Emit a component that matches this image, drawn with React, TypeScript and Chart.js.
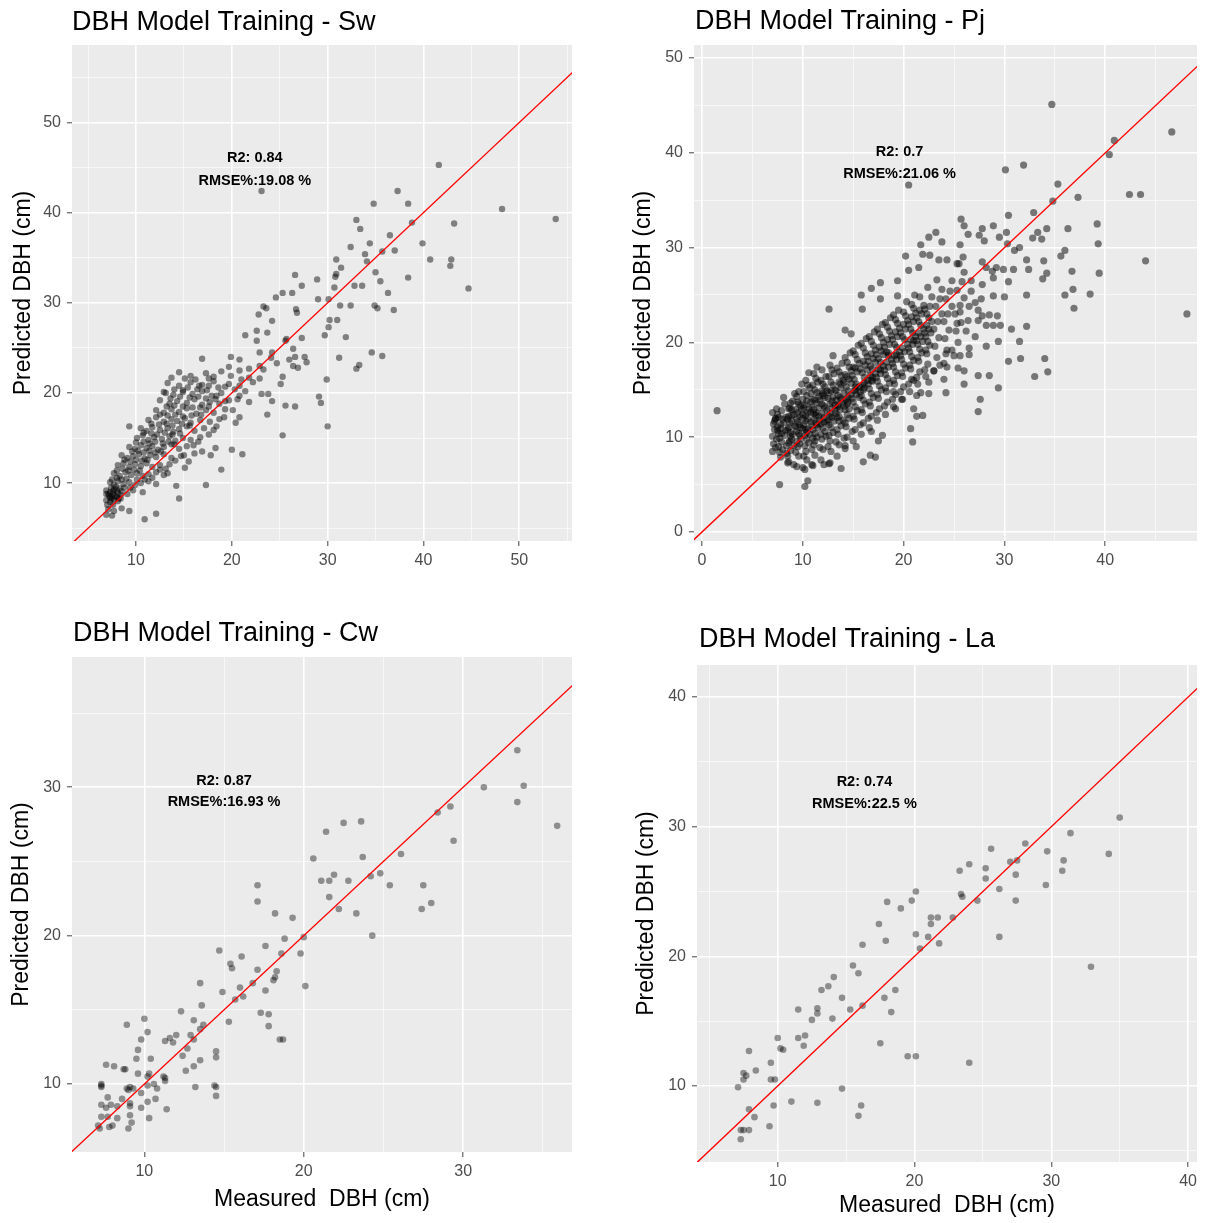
import React, { useEffect, useRef } from "react";
import { Chart, registerables } from "chart.js";

Chart.register(...registerables);

const FONT = '"Liberation Sans", Arial, Helvetica, sans-serif';

// ---------------- DATA ----------------
const swTitle = "DBH Model Training - Sw";
const pjTitle = "DBH Model Training - Pj";
const cwTitle = "DBH Model Training - Cw";
const laTitle = "DBH Model Training - La";

const swStats = ["R2: 0.84", "RMSE%:19.08 %"];
const pjStats = ["R2: 0.7", "RMSE%:21.06 %"];
const cwStats = ["R2: 0.87", "RMSE%:16.93 %"];
const laStats = ["R2: 0.74", "RMSE%:22.5 %"];

const yAxisTitle = "Predicted DBH (cm)";
const xAxisTitle = "Measured  DBH (cm)";

const swXTicks = [5, 10, 15, 20, 25, 30, 35, 40, 45, 50, 55];
const swYTicks = [5, 10, 15, 20, 25, 30, 35, 40, 45, 50, 55];
const pjXTicks = [0, 5, 10, 15, 20, 25, 30, 35, 40, 45];
const pjYTicks = [0, 5, 10, 15, 20, 25, 30, 35, 40, 45, 50];
const cwXTicks = [10, 15, 20, 25, 30, 35];
const cwYTicks = [10, 15, 20, 25, 30, 35];
const laXTicks = [5, 10, 15, 20, 25, 30, 35, 40];
const laYTicks = [5, 10, 15, 20, 25, 30, 35, 40];

// 1:1 reference line end points
const oneToOne = [-10, 100];

// Sw: measured, predicted
const swPoints: number[][] = [
  [53.8,39.3],[48.2,40.4],[41.6,45.3],[37.3,42.4],[38.4,41.0],[34.8,41.0],[33.0,39.2],[33.4,38.2],[38.8,38.9],[43.2,38.8],
  [36.5,37.5],[34.4,36.6],[39.9,36.6],[37.0,35.8],[35.7,35.7],[33.9,35.4],[34.1,34.6],[40.7,34.8],[42.9,34.8],[42.8,34.1],
  [32.4,36.2],[30.9,34.8],[31.4,33.9],[30.9,33.2],[30.8,32.9],[30.7,31.7],[38.4,32.8],[35.0,33.4],[35.5,32.4],[32.8,31.9],
  [33.6,31.9],[44.7,31.6],[36.3,31.1],[34.9,29.7],[35.2,29.4],[36.9,29.2],[32.4,29.7],[31.3,29.7],[30.2,28.1],[31.0,28.1],
  [30.1,30.4],[29.0,30.4],[30.1,27.3],[29.7,26.4],[31.9,26.2],[31.2,23.9],[34.6,24.5],[35.7,24.1],[33.0,22.7],[33.3,23.1],
  [29.9,21.5],[29.1,19.6],[29.3,18.9],[30.0,16.3],[26.6,33.1],[28.9,32.6],[27.3,31.9],[26.3,31.1],[25.3,31.1],[24.6,30.6],
  [23.3,29.6],[23.6,29.4],[22.8,28.7],[26.7,29.3],[26.8,28.9],[24.2,28.0],[27.3,26.1],[25.7,26.0],[25.6,25.8],[26.4,24.9],
  [26.6,24.0],[26.0,23.7],[27.6,24.0],[27.8,23.4],[26.9,22.8],[26.4,23.0],[24.7,23.3],[24.1,23.9],[24.2,24.5],[22.9,24.5],
  [22.6,25.8],[22.9,23.0],[21.4,26.4],[22.6,26.9],[23.7,26.7],[25.3,21.8],[25.1,21.0],[23.8,19.9],[24.2,19.1],[23.1,19.9],
  [23.7,17.6],[25.6,18.6],[26.6,18.5],[25.3,15.3],[22.9,21.6],[21.8,21.7],[23.3,22.6],[19.9,24.0],[20.8,23.7],[19.7,22.9],
  [16.9,23.8],[20.8,22.5],[19.7,21.0],[20.8,20.8],[20.8,19.7],[21.8,19.0],[20.1,18.1],[20.4,16.7],[20.8,17.3],[20.0,13.7],
  [21.1,13.2],[18.9,11.5],[17.3,9.8],[13.3,11.1],[14.2,9.7],[14.5,8.3],[12.1,6.6],[10.9,6.0],[9.3,6.9],[9.3,16.3],
  [13.7,21.7],[13.1,20.0],[14.9,20.1],[16.6,20.8],[17.6,20.8],[18.4,19.7],[19.3,19.1],[19.2,17.3],[18.4,16.3],[17.6,15.4],
  [18.3,13.9],[17.8,13.1],[16.9,13.5],[16.5,14.6],[16.1,13.3],[15.5,12.4],[15.1,11.7],[23.1,42.4],
  [19.9,21.9],[21.0,21.5],[21.4,20.2],[20.6,19.3],[21.8,22.7],[22.2,21.2],
  [14.5,22.3],[15.7,21.9],[17.3,22.2],[18.1,21.8],[18.9,22.4],
  [13.3,21.1],[14.5,20.8],[15.7,21.2],[16.9,20.9],[18.1,21.3],[19.3,20.7],
  [12.9,20.1],[13.9,19.8],[14.9,20.3],[15.9,19.9],[16.9,20.2],[17.9,19.7],[18.9,20.0],[20.3,20.4],
  [12.5,19.2],[13.5,18.8],[14.3,19.1],[15.3,18.9],[16.1,19.3],[16.9,18.7],[17.7,19.0],[18.7,18.8],[19.7,19.2],
  [12.1,18.1],[12.9,17.8],[13.7,18.2],[14.5,17.9],[15.3,18.3],[16.3,17.7],[17.3,18.1],[18.1,17.8],[19.3,18.2],
  [11.3,17.0],[12.1,17.3],[12.9,16.8],[13.7,17.1],[14.3,16.9],[15.1,17.2],[15.7,16.7],[16.7,17.0],[17.7,16.8],[18.7,17.1],
  [10.5,16.1],[11.1,15.8],[11.7,16.2],[12.5,15.9],[13.3,16.1],[13.9,15.7],[14.5,16.0],[15.3,16.3],[16.1,15.8],[17.1,16.1],[18.1,15.9],
  [10.1,15.0],[10.7,15.3],[11.3,14.8],[11.9,15.1],[12.7,14.9],[13.5,15.2],[14.1,14.7],[14.9,15.0],[15.7,14.8],[16.7,15.1],
  [9.3,14.0],[9.9,13.8],[10.5,14.2],[11.1,13.9],[11.7,14.1],[12.3,13.7],[12.9,14.0],[13.7,14.3],[14.5,13.8],[15.3,14.1],
  [8.5,13.1],[9.1,12.8],[9.7,13.0],[10.3,13.2],[10.9,12.7],[11.5,13.1],[12.1,12.9],[12.9,13.2],[13.7,12.8],[14.7,13.0],
  [8.1,12.0],[8.7,12.2],[9.3,11.8],[9.9,12.1],[10.5,11.9],[11.1,12.2],[11.7,11.8],[12.5,12.0],[13.5,12.1],
  [7.7,11.1],[8.3,10.8],[8.9,11.2],[9.5,10.9],[10.1,11.1],[10.7,10.8],[11.3,11.0],[12.1,11.2],[12.9,10.9],
  [7.3,10.1],[7.7,9.8],[8.1,10.2],[8.7,9.9],[9.3,10.1],[9.9,9.8],[10.5,10.0],[11.3,10.2],[12.1,9.9],
  [6.9,9.2],[7.1,8.8],[7.3,9.0],[7.7,9.3],[8.1,8.9],[8.5,9.1],[9.1,8.8],[9.7,9.2],[10.7,9.0],
  [6.9,8.1],[7.3,7.9],[7.7,8.2],[8.1,8.0],[7.5,8.4],[8.4,8.3],
  [7.1,7.1],[7.7,6.9],[8.5,7.2],[6.9,6.5],[7.5,6.4],
  [7.2,8.6],[7.6,8.8],[8.0,8.5],[7.4,9.5],[7.9,9.6],[8.3,9.4],
  [7.4,8.2],[7.8,8.6],[8.2,8.3],[7.6,9.1],[8.0,9.2],[8.4,8.7],[7.5,10.4],[8.0,10.6],[8.5,10.4],[9.0,10.5],
  [8.0,11.4],[8.6,11.6],[9.2,11.4],[9.8,11.5],[10.4,11.4],[8.8,12.6],[9.4,12.4],[10.0,12.6],[10.6,12.5],[11.2,12.6],
  [9.6,13.5],[10.2,13.6],[10.8,13.4],[11.4,13.6],[12.0,13.4],[12.6,13.5],[10.0,14.5],[10.8,14.6],[11.4,14.4],[12.0,14.6],
  [12.8,14.4],[13.4,14.6],[14.0,14.3],[10.8,15.6],[11.6,15.5],[12.2,15.4],[13.0,15.6],[13.8,15.4],[14.6,15.5],[11.6,16.6],
  [12.4,16.5],[13.2,16.6],[13.8,16.4],[14.8,16.6],[15.6,16.4],[12.5,17.6],[13.3,17.5],[14.1,17.6],[14.9,17.4],[15.8,17.5],
  [16.8,17.6],[13.2,18.5],[14.0,18.6],[14.9,18.5],[15.9,18.4],[16.7,18.4],[17.6,18.5],[13.6,19.4],[14.6,19.6],[15.6,19.5],
  [16.5,19.6],[17.3,19.4],[18.3,19.3],[14.0,20.4],[15.4,20.6],[16.4,20.4],[17.4,20.3],[18.6,20.6],[15.1,21.6],[16.2,21.5],
  [17.6,21.6],[7.0,7.6],[7.3,8.4],[7.6,7.6],[6.9,8.8],[8.8,9.5],[9.4,9.5],[10.1,10.4],[10.9,10.4],[11.7,10.6],
  [12.5,11.5],[13.1,11.6],[14.1,12.5],[15.0,13.1],[16.0,14.2],
];

// Pj: measured, predicted
const pjPoints: number[][] = [
  [34.7,45.1],[46.6,42.2],[40.9,41.3],[40.4,39.8],[31.9,38.7],[30.1,38.2],[20.5,36.6],[35.3,36.7],[34.8,34.9],[37.3,35.3],
  [42.4,35.6],[43.5,35.6],[30.4,33.4],[32.9,33.7],[39.2,32.5],[36.3,32.0],[34.2,32.0],[33.3,31.6],[39.3,30.4],[33.7,30.9],
  [32.8,31.0],[31.5,30.0],[32.2,28.7],[35.6,29.1],[36.0,29.7],[33.9,28.6],[32.4,27.7],[34.2,27.3],[36.7,27.5],[39.4,27.3],
  [44.0,28.6],[33.8,26.7],[30.4,26.4],[36.0,25.0],[36.8,25.6],[36.9,23.6],[38.5,25.1],[48.1,23.0],[32.2,25.0],[32.2,21.7],
  [30.7,21.4],[31.5,20.1],[29.4,20.1],[30.4,18.0],[31.6,18.3],[34.0,18.3],[34.3,16.9],[33.0,16.4],[29.4,15.2],[28.5,16.5],
  [27.4,16.5],[27.6,14.0],[27.4,12.7],[26.0,15.6],[26.0,17.0],[24.2,14.7],[24.0,16.1],[20.7,10.9],[20.9,9.5],[21.3,12.2],
  [21.9,12.3],[1.5,12.8],[12.6,23.5],[7.7,5.0],[10.2,4.8],[10.5,5.4],[13.8,6.7],[17.2,7.9],[16.7,8.1],[16.0,7.4],
  [12.1,7.1],[12.7,7.3],[10.9,7.1],[10.0,6.8],[9.1,7.1],[8.5,7.3],[14.2,9.1],[15.3,9.0],[17.5,9.6],[17.9,10.2],
  [16.8,10.6],[19.2,13.0],[19.9,14.0],[19.0,14.8],[14.2,21.3],[14.8,20.9],[15.8,25.0],[16.8,25.7],[17.7,26.3],[19.4,26.5],
  [19.4,24.9],[17.7,24.6],[15.9,23.5],[20.2,29.1],[20.5,27.6],[21.5,27.9],[21.7,30.3],[21.9,29.3],[22.5,31.1],[23.2,31.6],
  [23.8,30.6],[22.6,29.2],[23.5,28.7],[24.3,28.7],[25.7,33.0],[26.0,32.3],[26.4,31.4],[25.6,30.3],[25.9,29.0],[25.3,28.3],
  [27.5,31.3],[27.8,32.0],[28.9,32.3],[28.0,30.7],[29.5,31.1],[30.2,31.6],[30.3,30.4],[31.0,29.7],[27.8,28.5],[28.2,27.9],
  [28.8,27.5],[29.2,27.9],[29.9,27.7],[30.9,27.7],[28.9,26.8],[26.7,26.5],[26.7,25.4],[27.8,26.1],[27.7,24.6],[28.9,24.9],
  [30.0,24.8],[27.1,24.2],[26.5,23.8],[27.4,23.4],[27.8,22.8],[28.5,22.9],[29.3,22.8],[29.6,21.8],[28.9,21.8],[28.2,21.8],
  [27.4,22.3],[26.4,22.3],[25.6,23.2],[25.3,22.0],[26.2,21.2],[27.1,20.6],[28.2,19.6],[26.5,19.4],[25.6,18.6],[26.5,18.7],
  [25.4,17.3],[24.8,19.2],[24.2,18.8],[23.6,17.6],[23.0,17.0],[24.3,17.4],[22.5,15.8],[21.7,14.7],[22.5,14.6],[21.0,16.0],
  [21.3,14.4],[21.0,13.0],
  [7.0,8.5],[7.1,9.3],[7.0,10.1],[7.2,10.8],[7.1,11.4],[7.3,12.0],[7.0,12.6],[7.4,9.8],[7.5,11.1],[7.3,8.9],[7.6,10.4],[7.5,12.4],[7.2,11.7],[7.4,13.0],
  [7.8,7.9],[8.0,8.7],[7.9,9.5],[8.2,10.2],[7.8,10.9],[8.1,11.5],[8.3,12.1],[7.9,12.8],[8.2,13.5],[8.4,9.1],[8.0,11.9],[8.3,10.7],[8.1,14.2],[8.4,8.3],
  [8.6,7.4],[8.8,8.6],[8.7,9.6],[9.0,10.3],[8.6,11.0],[8.9,11.7],[9.1,12.4],[8.7,13.1],[9.0,13.8],[9.2,14.6],[8.8,10.5],[9.1,9.1],[8.9,12.9],[9.2,11.2],[8.6,12.2],
  [9.4,6.9],[9.6,8.0],[9.5,9.0],[9.8,9.8],[9.4,10.6],[9.7,11.3],[10.0,12.0],[9.5,12.6],[9.8,13.3],[10.0,14.0],[9.6,14.8],[9.9,15.6],[9.4,11.9],[9.7,10.2],[10.0,10.9],[9.9,12.9],[9.5,13.7],
  [10.2,6.6],[10.4,7.6],[10.3,8.5],[10.6,9.4],[10.2,10.2],[10.5,10.9],[10.8,11.6],[10.3,12.3],[10.6,13.0],[10.8,13.7],[10.4,14.4],[10.7,15.2],[10.3,16.0],[10.6,16.8],[10.5,11.9],[10.8,12.6],[10.2,13.4],[10.7,10.3],[10.4,9.8],[10.8,14.6],
  [11.0,7.0],[11.2,8.1],[11.1,9.2],[11.4,10.0],[11.0,10.8],[11.3,11.5],[11.6,12.2],[11.1,12.9],[11.4,13.6],[11.6,14.3],[11.2,15.0],[11.5,15.8],[11.1,16.7],[11.4,17.4],[11.3,12.6],[11.6,13.1],[11.0,14.0],[11.5,11.0],[11.2,9.6],
  [11.8,7.6],[12.0,8.7],[11.9,9.8],[12.2,10.6],[11.8,11.4],[12.1,12.1],[12.4,12.8],[11.9,13.5],[12.2,14.2],[12.4,14.9],[12.0,15.6],[12.3,16.4],[11.9,17.1],[12.2,13.1],[12.4,11.6],[12.0,14.6],[12.3,10.1],
  [12.6,7.2],[12.8,8.5],[12.7,9.6],[13.0,10.5],[12.6,11.3],[12.9,12.1],[13.2,12.8],[12.7,13.5],[13.0,14.2],[13.2,15.0],[12.8,15.8],[13.1,16.7],[12.7,17.6],[13.0,18.6],[12.9,13.8],[13.1,11.7],[12.6,14.7],[13.2,13.4],
  [13.4,8.0],[13.6,9.2],[13.5,10.3],[13.8,11.2],[13.4,12.1],[13.7,12.9],[14.0,13.6],[13.5,14.4],[13.8,15.2],[14.0,16.0],[13.6,16.9],[13.9,17.8],[13.5,13.2],[13.8,14.0],[14.0,11.8],[13.7,15.6],
  [14.2,8.8],[14.4,10.0],[14.3,11.1],[14.6,12.0],[14.2,12.9],[14.5,13.7],[14.8,14.5],[14.3,15.3],[14.6,16.1],[14.8,17.0],[14.4,17.9],[14.7,18.9],[14.5,14.2],[14.8,15.7],[14.2,16.6],[14.6,13.0],
  [15.0,9.6],[15.2,10.8],[15.1,11.9],[15.4,12.8],[15.0,13.7],[15.3,14.5],[15.6,15.3],[15.1,16.1],[15.4,16.9],[15.6,17.8],[15.2,18.7],[15.5,19.7],[15.3,15.0],[15.0,17.4],[15.6,14.2],
  [15.8,10.3],[16.0,11.5],[15.9,12.6],[16.2,13.5],[15.8,14.4],[16.1,15.2],[16.4,16.0],[15.9,16.8],[16.2,17.6],[16.4,18.5],[16.0,19.4],[16.3,20.4],[16.1,15.7],[16.4,17.1],
  [16.6,11.0],[16.8,12.2],[16.7,13.3],[17.0,14.2],[16.6,15.1],[16.9,15.9],[17.2,16.7],[16.7,17.5],[17.0,18.3],[17.2,19.2],[16.8,20.1],[17.1,21.1],[16.9,16.3],[17.2,17.9],
  [17.4,11.8],[17.6,13.0],[17.5,14.1],[17.8,15.0],[17.4,15.9],[17.7,16.7],[18.0,17.5],[17.5,18.3],[17.8,19.1],[18.0,20.0],[17.6,20.9],[17.9,21.9],[17.7,17.1],[18.0,18.7],
  [18.2,12.4],[18.4,13.7],[18.3,14.8],[18.6,15.7],[18.2,16.6],[18.5,17.4],[18.8,18.2],[18.3,19.0],[18.6,19.8],[18.8,20.7],[18.4,21.6],[18.7,22.6],[18.5,18.6],
  [19.0,13.2],[19.2,14.5],[19.1,15.6],[19.4,16.5],[19.0,17.4],[19.3,18.2],[19.6,19.0],[19.1,19.8],[19.4,20.6],[19.6,21.5],[19.2,22.4],[19.5,23.4],[19.3,18.7],
  [19.8,14.0],[20.0,15.3],[19.9,16.4],[20.2,17.3],[19.8,18.2],[20.1,19.0],[20.4,19.8],[19.9,20.6],[20.2,21.4],[20.4,22.3],[20.0,23.2],[20.3,24.3],
  [20.6,14.8],[20.8,16.1],[20.7,17.2],[21.0,18.1],[20.6,19.0],[20.9,19.8],[21.2,20.6],[20.7,21.4],[21.0,22.2],[21.2,23.1],[20.8,24.0],[21.1,25.0],[21.0,20.2],
  [21.4,15.6],[21.6,16.9],[21.5,18.0],[21.8,18.9],[21.4,19.8],[21.7,20.6],[22.0,21.4],[21.5,22.2],[21.8,23.0],[22.0,23.9],[21.6,24.8],[21.9,20.1],
  [22.2,16.4],[22.4,17.7],[22.3,18.8],[22.6,19.7],[22.2,20.6],[22.5,21.4],[22.8,22.2],[22.3,23.0],[22.6,23.8],[22.8,24.8],[22.4,25.8],[22.7,21.0],
  [23.0,17.0],[23.3,18.4],[23.1,19.6],[23.5,20.5],[23.0,21.4],[23.4,22.2],[23.8,23.0],[23.2,23.8],[23.6,24.6],[23.8,25.6],[23.3,26.6],
  [24.0,17.8],[24.3,19.2],[24.1,20.4],[24.5,21.3],[24.0,22.2],[24.4,23.0],[24.8,23.8],[24.2,24.6],[24.6,25.4],[24.8,26.5],
  [25.0,18.6],[25.4,20.0],[25.2,21.2],[25.7,22.1],[25.1,23.0],[25.6,23.9],[26.0,24.7],[25.3,25.5],[25.8,26.4],[26.0,27.4],[25.5,28.3],
  [7.6,9.0],[7.7,9.9],[7.5,10.7],[7.8,11.3],[7.6,12.1],[7.7,8.4],[7.9,10.4],[7.3,11.9],
  [8.5,8.0],[8.6,9.4],[8.8,10.1],[8.5,10.8],[8.7,11.5],[8.9,12.3],[8.6,13.0],[8.8,13.6],[8.5,11.9],[8.9,9.8],
  [9.3,8.4],[9.4,9.6],[9.6,10.4],[9.3,11.1],[9.5,11.6],[9.7,12.2],[9.3,12.9],[9.6,13.5],[9.4,14.3],[9.7,9.3],[9.8,11.0],
  [10.1,8.0],[10.2,9.1],[10.4,10.5],[10.1,11.3],[10.3,11.7],[10.5,12.6],[10.1,13.1],[10.4,13.8],[10.1,14.8],[10.5,15.5],[10.3,10.8],[10.0,12.4],
  [10.9,8.7],[11.0,9.9],[11.2,10.4],[10.9,11.2],[11.1,11.9],[11.3,12.3],[10.9,13.2],[11.2,13.9],[11.4,14.7],[11.0,15.5],[11.3,16.2],[11.1,12.5],[11.4,11.3],
  [11.7,8.9],[11.8,10.3],[12.0,11.0],[11.7,11.8],[11.9,12.5],[12.1,13.3],[11.7,13.9],[12.0,14.4],[12.2,15.3],[11.8,16.0],[12.1,11.6],[11.9,14.9],
  [12.5,9.0],[12.6,10.2],[12.8,11.0],[12.5,11.8],[12.7,12.5],[12.9,13.1],[12.5,14.1],[12.8,14.9],[13.0,15.5],[12.6,16.4],[12.9,17.1],[12.7,12.2],
  [13.3,9.5],[13.4,10.8],[13.6,11.7],[13.3,12.5],[13.5,13.4],[13.7,14.2],[13.3,14.9],[13.6,15.8],[13.8,16.5],[13.4,17.3],[13.6,12.2],[13.3,13.9],
  [14.1,9.9],[14.2,11.5],[14.4,12.4],[14.1,13.3],[14.3,14.0],[14.5,14.9],[14.1,15.8],[14.4,16.4],[14.6,17.4],[14.2,18.4],[14.4,13.5],[14.1,14.6],
  [14.9,10.6],[15.0,12.2],[15.2,13.2],[14.9,14.1],[15.1,14.9],[15.3,15.6],[14.9,16.5],[15.2,17.3],[15.4,18.2],[15.0,19.1],[15.2,15.3],
  [15.7,11.3],[15.8,12.9],[16.0,13.9],[15.7,14.8],[15.9,15.5],[16.1,16.3],[15.7,17.2],[16.0,18.0],[16.2,18.9],[15.8,19.9],[16.0,15.0],
  [16.5,12.0],[16.6,13.7],[16.8,14.6],[16.5,15.6],[16.7,16.5],[16.9,17.2],[16.5,18.0],[16.8,18.8],[17.0,19.7],[16.6,20.6],[16.8,16.0],
  [17.3,12.6],[17.4,14.5],[17.6,15.4],[17.3,16.3],[17.5,17.2],[17.7,17.9],[17.3,18.7],[17.6,19.5],[17.8,20.5],[17.4,21.4],
  [18.1,13.3],[18.2,15.2],[18.4,16.2],[18.1,17.1],[18.3,17.9],[18.5,18.9],[18.1,19.5],[18.4,20.3],[18.6,21.2],[18.2,22.1],
  [18.9,14.0],[19.0,16.0],[19.2,16.9],[18.9,17.8],[19.1,18.6],[19.3,19.5],[18.9,20.3],[19.2,21.1],[19.4,22.0],[19.0,22.9],
  [19.7,14.8],[19.8,16.8],[20.0,17.7],[19.7,18.6],[19.9,19.4],[20.1,20.3],[19.7,21.0],[20.0,21.9],[20.2,22.8],
  [20.5,15.6],[20.6,17.6],[20.8,18.5],[20.5,19.4],[20.7,20.3],[20.9,21.0],[20.5,21.9],[20.8,22.7],[21.0,23.6],
  [21.3,16.3],[21.4,18.4],[21.6,19.3],[21.3,20.2],[21.5,21.0],[21.7,21.8],[21.3,22.6],[21.6,23.4],
  [22.1,17.1],[22.2,19.2],[22.4,20.1],[22.1,21.0],[22.3,21.8],[22.5,22.6],[22.1,23.5],
];

// Cw: measured, predicted
const cwPoints: number[][] = [
  [33.4,32.5],[31.3,30.0],[33.8,30.1],[33.4,29.0],[29.2,28.7],[28.4,28.3],[29.4,26.4],[35.9,27.4],[22.5,27.6],[23.6,27.7],
  [21.4,27.0],[20.6,25.2],[23.7,25.3],[26.1,25.5],[21.1,23.7],[21.6,23.7],[21.9,24.1],[22.8,23.7],[24.2,24.0],[24.8,24.2],
  [25.4,23.4],[27.5,23.4],[21.6,22.6],[22.2,21.8],[23.3,21.5],[27.4,21.8],[28.0,22.2],[24.3,20.0],[17.1,23.4],[17.1,22.3],
  [18.2,21.5],[19.3,21.2],[17.6,19.3],[18.8,19.8],[20.0,19.9],[19.8,18.8],[18.6,18.8],[18.3,17.6],[18.2,17.2],[18.1,17.0],
  [17.1,17.7],[16.8,16.8],[17.6,16.3],[16.0,16.5],[16.1,18.6],[15.4,18.1],[15.5,17.8],[14.7,19.0],[14.9,16.2],[15.7,15.7],
  [16.2,15.9],[20.1,16.6],[17.3,14.8],[17.8,14.7],[17.8,13.9],[18.5,13.0],[18.7,13.0],[15.3,14.2],[13.5,16.8],[13.6,15.3],
  [13.7,14.0],[13.5,13.7],[13.1,14.3],[12.3,14.9],[12.9,13.3],[13.1,13.0],[12.7,12.4],[12.4,11.9],[12.6,10.9],[13.1,11.2],
  [13.5,11.6],[13.2,9.8],[14.5,12.2],[14.5,11.8],[14.4,9.9],[14.5,9.8],[14.5,9.2],[12.0,13.3],[11.8,12.8],[11.6,13.1],
  [11.3,12.9],[11.3,10.4],[11.3,10.2],[11.4,8.3],[11.2,10.5],[10.8,9.7],[10.7,9.0],[10.6,10.0],[10.4,11.7],[10.2,13.5],
  [10.0,14.4],[9.8,13.0],[9.6,12.3],[9.5,11.7],[9.6,10.7],[10.3,10.7],[10.2,10.5],[10.2,9.9],[10.2,8.8],[10.3,7.7],
  [9.8,9.4],[9.8,8.4],[9.3,9.7],[9.1,9.8],[9.0,9.6],[8.9,9.7],[9.1,8.7],[9.1,8.5],[9.1,7.9],[9.2,7.4],
  [9.0,7.0],[8.9,14.0],[8.8,11.0],[8.7,11.0],[8.6,9.0],[8.3,8.5],[8.3,7.7],[8.1,11.2],[8.0,7.2],[7.8,7.1],
  [7.7,9.1],[7.6,8.4],[7.7,7.8],[7.6,11.3],[7.3,10.0],[7.3,9.8],[7.3,8.6],[7.3,7.8],[7.1,7.2],[7.2,7.0],
  [7.9,8.6],[7.3,9.9],
];

// La: measured, predicted
const laPoints: number[][] = [
  [35.0,30.7],[31.4,29.5],[34.2,27.9],[29.7,28.1],[30.9,27.4],[30.8,26.6],[29.6,25.5],[28.1,28.7],[27.5,27.4],[27.0,27.3],
  [27.4,26.3],[27.4,24.3],[25.6,28.3],[25.2,26.8],[25.2,26.0],[26.2,25.2],[26.2,21.5],[24.0,27.1],[23.3,26.6],[23.4,24.8],
  [23.5,24.6],[24.6,24.3],[22.8,23.0],[21.7,23.0],[21.2,23.0],[21.2,22.5],[21.0,21.5],[21.8,21.0],[20.4,20.6],[20.1,25.0],
  [19.8,24.3],[20.1,21.7],[19.0,23.7],[18.0,24.2],[17.4,22.5],[17.9,21.2],[16.2,20.9],[15.5,19.3],[15.9,18.7],[14.1,18.4],
  [13.7,17.7],[13.2,17.4],[14.7,16.8],[16.2,16.2],[15.3,15.9],[14.0,15.2],[12.9,16.0],[12.9,15.6],[12.5,15.1],[11.5,15.9],
  [12.0,13.9],[11.9,13.1],[11.5,13.7],[10.0,13.7],[10.2,12.9],[10.4,12.8],[17.8,16.8],[18.6,17.4],[18.3,15.7],[17.5,13.3],
  [19.5,12.3],[20.1,12.3],[24.0,11.8],[32.9,19.2],[14.7,9.8],[12.9,8.7],[11.0,8.8],[16.1,8.5],[15.9,7.7],[9.5,10.5],
  [9.8,10.5],[9.5,11.8],[9.7,8.5],[9.4,6.9],[8.4,11.2],[8.3,7.6],[7.9,12.7],[7.9,8.2],[7.9,6.6],[7.5,11.0],
  [7.7,10.8],[7.5,10.5],[7.1,9.9],[7.3,6.6],[7.5,6.6],[7.3,5.9],
];

// ---------------- PANELS ----------------
type Box = { left: number; top: number; width: number; height: number };
type Plot = { left: number; top: number; right: number; bottom: number };

interface PanelSpec {
  title: string;
  stats: string[];
  statAt: number[];
  points: number[][];
  xRange: number[];
  yRange: number[];
  xTicks: number[];
  yTicks: number[];
  box: Box;
  plot: Plot;
  titleLeft: number;
  titleBaseline: number;
  yTitlePad: number;
  xTitle: boolean;
  xTitlePad: number;
  radius: number;
  alpha: number;
}

const panels: PanelSpec[] = [
  {
    title: swTitle, stats: swStats, statAt: [22.4, 46.1, 43.5], points: swPoints,
    xRange: [3.32, 55.5], yRange: [3.58, 58.6], xTicks: swXTicks, yTicks: swYTicks,
    box: { left: 0, top: 0, width: 610, height: 600 }, plot: { left: 72, top: 45, right: 572, bottom: 541 },
    titleLeft: 72, titleBaseline: 30, yTitlePad: 10, xTitle: false, xTitlePad: 0, radius: 3.2, alpha: 0.46,
  },
  {
    title: pjTitle, stats: pjStats, statAt: [19.6, 40.1, 37.8], points: pjPoints,
    xRange: [-0.79, 49.1], yRange: [-0.95, 51.37], xTicks: pjXTicks, yTicks: pjYTicks,
    box: { left: 615, top: 0, width: 594, height: 600 }, plot: { left: 694, top: 45, right: 1197, bottom: 541 },
    titleLeft: 695, titleBaseline: 29, yTitlePad: 15, xTitle: false, xTitlePad: 0, radius: 3.6, alpha: 0.5,
  },
  {
    title: cwTitle, stats: cwStats, statAt: [15.0, 30.45, 28.98], points: cwPoints,
    xRange: [5.46, 36.83], yRange: [5.42, 38.78], xTicks: cwXTicks, yTicks: cwYTicks,
    box: { left: 0, top: 600, width: 610, height: 623 }, plot: { left: 72, top: 657, right: 572, bottom: 1152 },
    titleLeft: 73, titleBaseline: 641, yTitlePad: 8, xTitle: true, xTitlePad: 10, radius: 3.3, alpha: 0.4,
  },
  {
    title: laTitle, stats: laStats, statAt: [16.34, 33.44, 31.75], points: laPoints,
    xRange: [4.1, 40.65], yRange: [4.14, 42.47], xTicks: laXTicks, yTicks: laYTicks,
    box: { left: 615, top: 600, width: 594, height: 623 }, plot: { left: 697, top: 665, right: 1197, bottom: 1162 },
    titleLeft: 699, titleBaseline: 647, yTitlePad: 18, xTitle: true, xTitlePad: 4, radius: 3.3, alpha: 0.4,
  },
];

const isMajor = (v: any) => typeof v === "number" && Math.abs(v % 10) < 1e-6;

function Panel({ spec }: { spec: PanelSpec }) {
  const ref = useRef<HTMLCanvasElement | null>(null);

  useEffect(() => {
    const canvas = ref.current;
    if (!canvas) return;
    const s = spec;

    const grid = {
      color: (c: any) => (isMajor(c.tick && c.tick.value) ? "#ffffff" : "rgba(255,255,255,0.75)"),
      lineWidth: (c: any) => (isMajor(c.tick && c.tick.value) ? 1.6 : 0.8),
      tickColor: (c: any) => (isMajor(c.tick && c.tick.value) ? "#444444" : "rgba(0,0,0,0)"),
      tickLength: 5,
      tickWidth: 1,
      drawTicks: true,
      drawOnChartArea: true,
    };

    const deco = {
      id: "deco",
      beforeDraw(chart: any) {
        const { ctx, chartArea: a } = chart;
        ctx.save();
        ctx.fillStyle = "#ebebeb";
        ctx.fillRect(a.left, a.top, a.right - a.left, a.bottom - a.top);
        ctx.restore();
      },
      afterDraw(chart: any) {
        const ctx = chart.ctx;
        ctx.save();
        ctx.fillStyle = "#000000";
        ctx.font = `27px ${FONT}`;
        ctx.textAlign = "left";
        ctx.textBaseline = "alphabetic";
        ctx.fillText(s.title, s.titleLeft - s.box.left, s.titleBaseline - s.box.top);
        ctx.font = `bold 14.5px ${FONT}`;
        ctx.textAlign = "center";
        ctx.textBaseline = "middle";
        const xs = chart.scales.x;
        const ys = chart.scales.y;
        const px = xs.getPixelForValue(s.statAt[0]);
        ctx.fillText(s.stats[0], px, ys.getPixelForValue(s.statAt[1]));
        ctx.fillText(s.stats[1], px, ys.getPixelForValue(s.statAt[2]));
        ctx.restore();
      },
    };

    const chart = new Chart(canvas, {
      type: "scatter",
      data: {
        datasets: [
          {
            type: "line",
            data: oneToOne.map((v) => ({ x: v, y: v })),
            borderColor: "#ff0000",
            borderWidth: 1.3,
            pointRadius: 0,
            fill: false,
            tension: 0,
            order: 0,
          } as any,
          {
            type: "scatter",
            data: s.points.map((p) => ({ x: p[0], y: p[1] })),
            backgroundColor: `rgba(0,0,0,${s.alpha})`,
            borderWidth: 0,
            pointRadius: s.radius,
            pointHoverRadius: s.radius,
            order: 1,
          },
        ],
      },
      options: {
        responsive: false,
        animation: false,
        events: [],
        layout: {
          padding: {
            top: s.plot.top - s.box.top,
            right: s.box.left + s.box.width - s.plot.right,
            left: 0,
            bottom: 0,
          },
        },
        plugins: {
          legend: { display: false },
          tooltip: { enabled: false },
          title: { display: false },
        },
        scales: {
          x: {
            type: "linear",
            min: s.xRange[0],
            max: s.xRange[1],
            afterBuildTicks: (scale: any) => {
              scale.ticks = s.xTicks.map((v) => ({ value: v }));
            },
            afterFit: (scale: any) => {
              scale.height = s.box.top + s.box.height - s.plot.bottom;
            },
            grid: grid as any,
            border: { display: false },
            ticks: {
              autoSkip: false,
              maxRotation: 0,
              padding: 5,
              color: "#4d4d4d",
              font: { family: FONT, size: 16 },
              callback: (v: any) => (isMajor(v) ? String(v) : ""),
            },
            title: {
              display: s.xTitle,
              text: xAxisTitle,
              color: "#000000",
              font: { family: FONT, size: 23 },
              padding: { top: 0, bottom: s.xTitlePad },
            },
          },
          y: {
            type: "linear",
            min: s.yRange[0],
            max: s.yRange[1],
            afterBuildTicks: (scale: any) => {
              scale.ticks = s.yTicks.map((v) => ({ value: v }));
            },
            afterFit: (scale: any) => {
              scale.width = s.plot.left - s.box.left;
            },
            grid: grid as any,
            border: { display: false },
            ticks: {
              autoSkip: false,
              padding: 6,
              color: "#4d4d4d",
              font: { family: FONT, size: 16 },
              callback: (v: any) => (isMajor(v) ? String(v) : ""),
            },
            title: {
              display: true,
              text: yAxisTitle,
              color: "#000000",
              font: { family: FONT, size: 23 },
              padding: { top: s.yTitlePad, bottom: 0 },
            },
          },
        },
      },
      plugins: [deco],
    } as any);

    return () => chart.destroy();
  }, [spec]);

  return (
    <div
      style={{
        position: "absolute",
        left: spec.box.left,
        top: spec.box.top,
        width: spec.box.width,
        height: spec.box.height,
      }}
    >
      <canvas
        ref={ref}
        width={spec.box.width}
        height={spec.box.height}
        style={{ display: "block", width: spec.box.width, height: spec.box.height }}
      />
    </div>
  );
}

export default function App() {
  return (
    <div
      style={{
        position: "absolute",
        left: 0,
        top: 0,
        width: 1209,
        height: 1223,
        background: "#ffffff",
        overflow: "hidden",
      }}
    >
      {panels.map((p) => (
        <Panel key={p.title} spec={p} />
      ))}
    </div>
  );
}
